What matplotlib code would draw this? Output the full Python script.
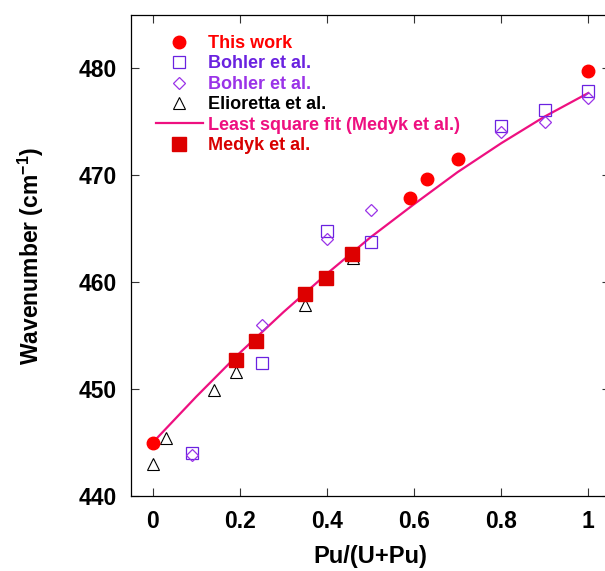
import matplotlib
matplotlib.use("Agg")
import matplotlib.pyplot as plt
from matplotlib.lines import Line2D

plt.rcParams['font.family'] = ['Liberation Sans', 'DejaVu Sans']
plt.rcParams['font.weight'] = 'bold'
plt.rcParams['mathtext.fontset'] = 'custom'
plt.rcParams['mathtext.rm'] = 'Liberation Sans:bold'
plt.rcParams['mathtext.bf'] = 'Liberation Sans:bold'
plt.rcParams['axes.unicode_minus'] = False

# ---- data ----
this_work_x = [0.0, 0.59, 0.63, 0.70, 1.0]
this_work_y = [445.0, 467.9, 469.7, 471.5, 479.8]

bohler_sq_x = [0.09, 0.25, 0.40, 0.50, 0.80, 0.90, 1.0]
bohler_sq_y = [444.0, 452.4, 464.8, 463.8, 474.6, 476.1, 477.9]

bohler_di_x = [0.09, 0.25, 0.40, 0.50, 0.80, 0.90, 1.0]
bohler_di_y = [443.8, 456.0, 464.0, 466.8, 474.1, 475.0, 477.2]

elioretta_x = [0.0, 0.03, 0.14, 0.19, 0.35, 0.46]
elioretta_y = [443.0, 445.4, 449.9, 451.6, 457.9, 462.3]

medyk_x = [0.19, 0.237, 0.35, 0.397, 0.457]
medyk_y = [452.7, 454.5, 458.9, 460.4, 462.6]

fit_x = [0.0, 0.1, 0.2, 0.3, 0.4, 0.5, 0.6, 0.7, 0.8, 0.9, 1.0]
fit_y = [445.0, 449.3, 453.4, 457.2, 460.8, 464.2, 467.3, 470.3, 473.0, 475.5, 477.7]

xticks = [0, 0.2, 0.4, 0.6, 0.8, 1.0]
xticklabels = ["0", "0.2", "0.4", "0.6", "0.8", "1"]
yticks = [440, 450, 460, 470, 480]

labels = ["This work", "Bohler et al.", "Bohler et al.", "Elioretta et al.",
          "Least square fit (Medyk et al.)", "Medyk et al."]
label_colors = ["#FF0000", "#6A22E0", "#9A33E8", "#000000", "#EE1080", "#D80000"]

# ---- figure ----
W, H = 605, 571
fig = plt.figure(figsize=(W / 100, H / 100), dpi=100)
left, right, top, bottom = 131, 610, 15, 496
ax = fig.add_axes([left / W, 1 - bottom / H, (right - left) / W, (bottom - top) / H])

ax.plot(fit_x, fit_y, color="#EE1080", lw=1.6, zorder=2)
ax.plot(elioretta_x, elioretta_y, ls='none', marker='^', ms=8.5, mfc='white',
        mec='black', mew=0.8, zorder=3)
ax.plot(bohler_sq_x, bohler_sq_y, ls='none', marker='s', ms=8, mfc='none',
        mec='#6A22E0', mew=0.9, zorder=3)
ax.plot(bohler_di_x, bohler_di_y, ls='none', marker='D', ms=6, mfc='none',
        mec='#9A33E8', mew=0.9, zorder=3)
ax.plot(medyk_x, medyk_y, ls='none', marker='s', ms=9.5, mfc='#DD0000',
        mec='#DD0000', zorder=4)
ax.plot(this_work_x, this_work_y, ls='none', marker='o', ms=9, mfc='#FF0000',
        mec='#FF0000', zorder=5)

ax.set_xlim(-0.05, 1.05)
ax.set_ylim(440, 485)
ax.set_xticks(xticks)
ax.set_xticklabels(xticklabels)
ax.set_yticks(yticks)
ax.tick_params(direction='in', length=6, width=0.8, top=True, right=True,
               labelsize=16.5, pad=10, color='#333333')
for lab in ax.get_xticklabels() + ax.get_yticklabels():
    lab.set_fontweight('bold')
for sp in ax.spines.values():
    sp.set_linewidth(0.9)

ax.set_xlabel("Pu/(U+Pu)", fontsize=17, fontweight='bold', labelpad=9)
ax.set_ylabel("Wavenumber (cm$^{-1}$)", fontsize=16.5, fontweight='bold', labelpad=24)

handles = [
    Line2D([], [], ls='none', marker='o', ms=9, mfc='#FF0000', mec='#FF0000'),
    Line2D([], [], ls='none', marker='s', ms=8, mfc='none', mec='#6A22E0', mew=0.9),
    Line2D([], [], ls='none', marker='D', ms=6, mfc='none', mec='#9A33E8', mew=0.9),
    Line2D([], [], ls='none', marker='^', ms=8.5, mfc='white', mec='black', mew=0.8),
    Line2D([], [], color='#EE1080', lw=1.6),
    Line2D([], [], ls='none', marker='s', ms=9.5, mfc='#DD0000', mec='#DD0000'),
]
leg = ax.legend(handles, labels, loc='upper left', frameon=False,
                bbox_to_anchor=(156 / W, 1 - 35 / H), bbox_transform=fig.transFigure,
                borderpad=0, borderaxespad=0, handlelength=2.6, handletextpad=0.3,
                labelspacing=0.19, prop={'size': 13, 'weight': 'bold'})
for t, c in zip(leg.get_texts(), label_colors):
    t.set_color(c)

fig.savefig("out.png", dpi=100)
